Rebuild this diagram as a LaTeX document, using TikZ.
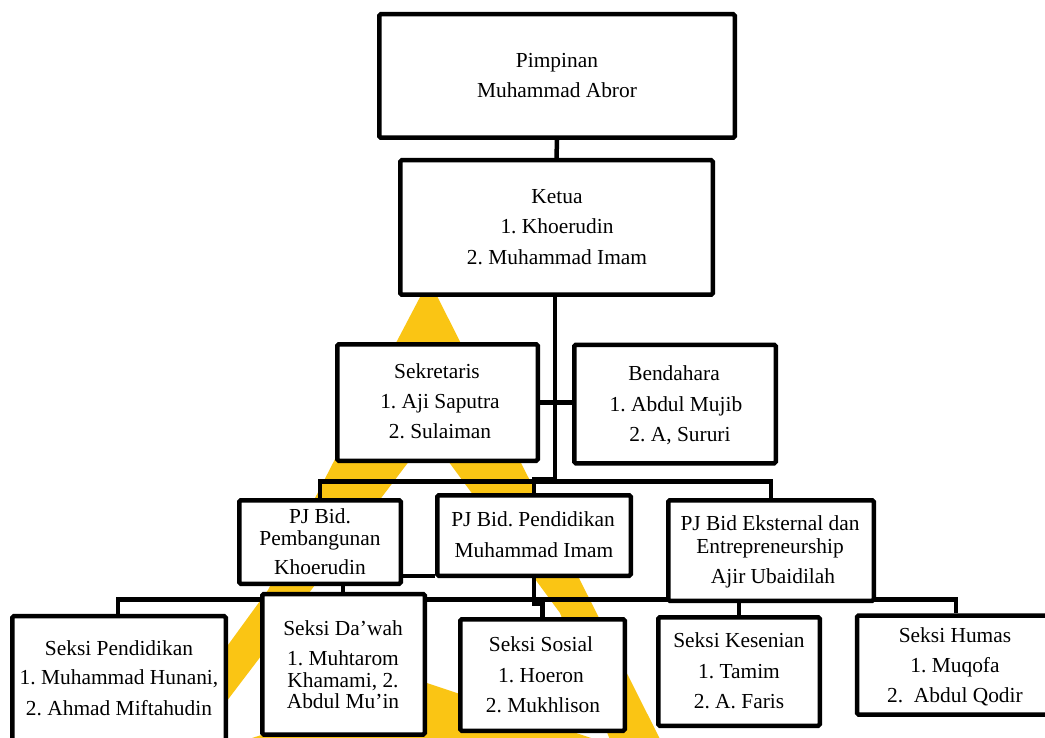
\documentclass[tikz,border=0pt]{standalone}
\usepackage{fontspec}
\setmainfont{Liberation Serif}
\frenchspacing
\definecolor{gold}{RGB}{250,197,20}
\pgfdeclarelayer{deco}
\pgfdeclarelayer{wires}
\pgfsetlayers{deco,wires,main}
\begin{document}
\begin{tikzpicture}[x=1pt,y=-1pt,
  box/.style={draw=black, line width=4.5pt, fill=white, rounded corners=1.5pt, inner sep=0pt},
  wire/.style={draw=black, line width=4.5pt},
  txt/.style={anchor=base, inner sep=0pt, font=\fontsize{21.4}{24}\selectfont}]
\useasboundingbox (0,0) rectangle (1045,738);
\begin{pgfonlayer}{deco}
\fill[white] (0,0) rectangle (1045,738);
\fill[gold, even odd rule]
  (429,280) -- (668,755) -- (180,762) -- (228,645) -- (268,590) -- (333,463) -- cycle
  (429,435) -- (560,613) -- (612,745) -- (427,683) -- (182,760) -- cycle;
\end{pgfonlayer}
% boxes
\node[box, minimum width=355.5pt, minimum height=123.5pt] (pim) at (557,76) {};
\node[box, minimum width=312.5pt, minimum height=134.5pt] (ket) at (556.5,227.5) {};
\node[box, minimum width=200.5pt, minimum height=116.5pt] (sek) at (437.5,402.5) {};
\node[box, minimum width=201.5pt, minimum height=118.5pt] (ben) at (675,404) {};
\node[box, minimum width=161.5pt, minimum height=83.5pt] (pjp) at (320,542) {};
\node[box, minimum width=193.5pt, minimum height=80.5pt] (pjd) at (534,535.5) {};
\node[box, minimum width=205.5pt, minimum height=100.5pt] (pje) at (771,550.5) {};
\node[box, minimum width=213.5pt, minimum height=128.75pt] (spd) at (119,680.6) {};
\node[box, minimum width=162.5pt, minimum height=140.5pt] (sdw) at (343.5,664.25) {};
\node[box, minimum width=164.5pt, minimum height=111.5pt] (sso) at (542.5,675) {};
\node[box, minimum width=161.5pt, minimum height=108.5pt] (sks) at (739,671.5) {};
\node[box, minimum width=203pt, minimum height=99pt] (shu) at (958.5,665) {};
% junctions
\coordinate (k1) at (555,479);
\coordinate (jr) at (771,481.5);
\coordinate (bl) at (118,599.5);
\coordinate (br) at (956,599.5);
\coordinate (ly) at (0,576);
\coordinate (dx) at (343,0);
\begin{pgfonlayer}{wires}
\draw[wire] (pim.south) -- (ket.north);
\draw[wire] (ket.south -| k1) -- (k1) -- (pjd.north |- k1) -- (pjd.north);
\draw[wire] (sek.east) -- (sek.east -| ben.west);
\draw[wire] (pjp.north) |- (jr) -- (pje.north);
\draw[wire] (pjp.east |- ly) -- (pjd.west |- ly);
\draw[wire] (pjp.south -| dx) -- (sdw.north -| dx);
\draw[wire] (spd.north -| bl) -- (bl) -- (br) -- (shu.north -| br);
\draw[wire] (pjd.south) -- ++(0,26) -| (sso.north);
\draw[wire] (pje.south -| sks.north) -- (sks.north);
\end{pgfonlayer}
% texts
\node[txt] (tpim1) at (557,68) {Pimpinan};
\node[txt] (tpim2) at (557,98) {Muhammad Abror};
\node[txt] (tket1) at (557,204) {Ketua};
\node[txt] (tket2) at (557,234) {1. Khoerudin};
\node[txt] (tket3) at (557,265) {2. Muhammad Imam};
\node[txt] (tsek1) at (437,378) {Sekretaris};
\node[txt] (tsek2) at (440,408) {1. Aji Saputra};
\node[txt] (tsek3) at (440,438) {2. Sulaiman};
\node[txt] (tben1) at (674,380) {Bendahara};
\node[txt] (tben2) at (676,411) {1. Abdul Mujib};
\node[txt] (tben3) at (680,441) {2. A, Sururi};
\node[txt] (tpjp1) at (320,523) {PJ Bid.};
\node[txt] (tpjp2) at (320,545) {Pembangunan};
\node[txt] (tpjp3) at (320,574) {Khoerudin};
\node[txt] (tpjd1) at (533,526) {PJ Bid. Pendidikan};
\node[txt] (tpjd2) at (534,557) {Muhammad Imam};
\node[txt] (tpje1) at (770,530) {PJ Bid Eksternal dan};
\node[txt] (tpje2) at (770,553) {Entrepreneurship};
\node[txt] (tpje3) at (773,583) {Ajir Ubaidilah};
\node[txt] (tspd1) at (119,655) {Seksi Pendidikan};
\node[txt] (tspd2) at (119,684) {1. Muhammad Hunani,};
\node[txt] (tspd3) at (119,715) {2. Ahmad Miftahudin};
\node[txt] (tsdw1) at (343,635) {Seksi Da’wah};
\node[txt] (tsdw2) at (343,665) {1. Muhtarom};
\node[txt] (tsdw3) at (343,687) {Khamami, 2.};
\node[txt] (tsdw4) at (343,708) {Abdul Mu’in};
\node[txt] (tsso1) at (541,651) {Seksi Sosial};
\node[txt] (tsso2) at (541,682) {1. Hoeron};
\node[txt] (tsso3) at (543,712) {2. Mukhlison};
\node[txt] (tsks1) at (739,647) {Seksi Kesenian};
\node[txt] (tsks2) at (739,678) {1. Tamim};
\node[txt] (tsks3) at (739,708) {2. A. Faris};
\node[txt] (tshu1) at (955,642) {Seksi Humas};
\node[txt] (tshu2) at (955,672) {1. Muqofa};
\node[txt] (tshu3) at (955,702) {2.\ \ Abdul Qodir};
\end{tikzpicture}
\end{document}
